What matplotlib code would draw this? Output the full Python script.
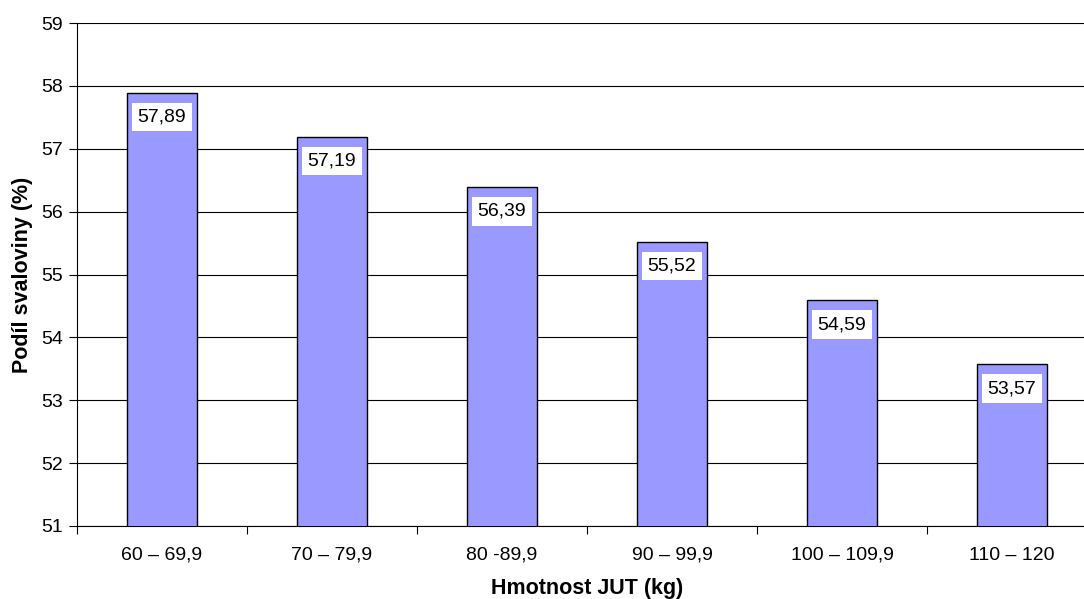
import matplotlib
matplotlib.use("Agg")
import matplotlib.pyplot as plt
import numpy as np

categories = ["60 – 69,9", "70 – 79,9", "80 -89,9", "90 – 99,9", "100 – 109,9", "110 – 120"]
values = [57.89, 57.19, 56.39, 55.52, 54.59, 53.57]
y_ticks = [51, 52, 53, 54, 55, 56, 57, 58, 59]

plt.rcParams['font.family'] = ['Liberation Sans', 'DejaVu Sans']

W, H = 1084, 599
fig = plt.figure(figsize=(W / 100, H / 100), dpi=100)
ax = fig.add_axes([77 / W, 1 - 526 / H, 1020 / W, 503 / H])

x = np.arange(len(categories))
ax.bar(x, values, width=0.41, bottom=0, color="#9999ff", edgecolor="black",
       linewidth=1.0, zorder=3)

ax.set_xlim(-0.5, len(categories) - 0.5)
ax.set_ylim(51, 59)
ax.set_yticks(y_ticks)
ax.set_yticklabels([str(t) for t in y_ticks], fontsize=14)
ax.yaxis.grid(True, color="black", linewidth=0.8, zorder=0)

ax.set_xticks(x)
ax.set_xticklabels(categories, fontsize=14)
ax.tick_params(axis="x", length=0, pad=15)
ax.set_xticks(np.arange(len(categories) + 1) - 0.5, minor=True)
ax.tick_params(axis="x", which="minor", length=6, width=0.8, direction="out")
ax.tick_params(axis="y", length=6, width=0.8, direction="out", pad=4)

for s in ["top", "right"]:
    ax.spines[s].set_visible(False)
ax.spines["left"].set_linewidth(0.8)
ax.spines["bottom"].set_linewidth(0.8)

for xi, v in zip(x, values):
    ax.annotate(f"{v:.2f}".replace(".", ","), xy=(xi, v), xytext=(0, -17.5),
                textcoords="offset points", ha="center", va="center",
                fontsize=14, zorder=5,
                bbox=dict(boxstyle="square,pad=0.3", fc="white", ec="none"))

ax.set_xlabel("Hmotnost JUT (kg)", fontsize=15.5, fontweight="bold", labelpad=10)
ax.set_ylabel("Podíl svaloviny (%)", fontsize=15.5, fontweight="bold", labelpad=6)

fig.savefig("out.png", dpi=100)
